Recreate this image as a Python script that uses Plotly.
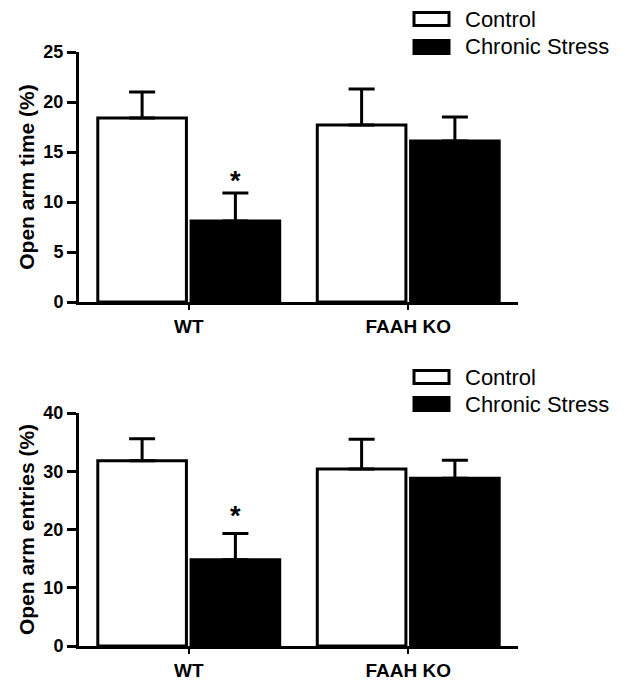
import plotly.graph_objects as go

# ---- data ----
groups = ["WT", "FAAH KO"]
series_names = ["Control", "Chronic Stress"]

time_control = [18.4, 17.7]
time_control_err = [2.6, 3.6]
time_stress = [8.1, 16.1]
time_stress_err = [2.8, 2.4]

entries_control = [31.8, 30.4]
entries_control_err = [3.8, 5.1]
entries_stress = [14.8, 28.8]
entries_stress_err = [4.5, 3.1]

time_ticks = [0, 5, 10, 15, 20, 25]
entries_ticks = [0, 10, 20, 30, 40]
sig_marks = ["*", ""]  # significance per group, on the stress bar

# ---- styling ----
FONT = "Liberation Sans, Arial, sans-serif"
W, H = 637, 680
LW = 3
BARGAP = 0.15
BARGROUPGAP = 0.05
fill = {"Control": "white", "Chronic Stress": "black"}


def px_x(p):
    return p / W


def px_y(p):
    return 1 - p / H


fig = go.Figure()

panels = [
    dict(xa="x", ya="y", c=time_control, ce=time_control_err,
         s=time_stress, se=time_stress_err),
    dict(xa="x2", ya="y2", c=entries_control, ce=entries_control_err,
         s=entries_stress, se=entries_stress_err),
]

for p in panels:
    for name, vals, errs in [("Control", p["c"], p["ce"]),
                             ("Chronic Stress", p["s"], p["se"])]:
        fig.add_trace(go.Bar(
            x=groups, y=vals, name=name, showlegend=False,
            xaxis=p["xa"], yaxis=p["ya"],
            marker=dict(color=fill[name], line=dict(color="black", width=LW)),
            error_y=dict(type="data", symmetric=False, array=errs,
                         arrayminus=[0] * len(errs), color="black",
                         thickness=LW, width=13),
        ))

# significance stars above the stress bars
slot = (1 - BARGAP) / 2
offset = slot / 2
for p, shift in [(panels[0], 12), (panels[1], 18)]:
    for i, mark in enumerate(sig_marks):
        if not mark:
            continue
        fig.add_annotation(
            x=i + offset, y=p["s"][i] + p["se"][i], xref=p["xa"], yref=p["ya"],
            text=mark, showarrow=False, yanchor="middle", yshift=shift,
            font=dict(family=FONT, size=27, color="black", weight="bold"),
        )

x_dom = [px_x(79), px_x(518)]
axis_common = dict(showline=True, linecolor="black", linewidth=LW,
                   showgrid=False, zeroline=False, ticks="outside",
                   tickcolor="black", automargin=False)
xcommon = dict(axis_common, domain=x_dom, range=[-0.5, 1.5], type="category",
               ticklen=5, tickwidth=2,
               tickfont=dict(family=FONT, size=19, color="black", weight="bold"))
ycommon = dict(axis_common, ticklen=9, tickwidth=LW,
               tickfont=dict(family=FONT, size=18, color="black", weight="bold"),
               title_font=dict(family=FONT, size=21, color="black", weight="bold"),
               title_standoff=4)

fig.update_layout(
    width=W, height=H, margin=dict(l=0, r=0, t=0, b=0),
    paper_bgcolor="white", plot_bgcolor="white",
    barmode="group", bargap=BARGAP, bargroupgap=BARGROUPGAP,
    showlegend=False,
    xaxis=dict(xcommon, anchor="y"),
    yaxis=dict(ycommon, domain=[px_y(302), px_y(52)], range=[0, 25],
               tickvals=time_ticks, anchor="x",
               title_text="Open arm time (%)"),
    xaxis2=dict(xcommon, anchor="y2"),
    yaxis2=dict(ycommon, domain=[px_y(646), px_y(413)], range=[0, 40],
                tickvals=entries_ticks, anchor="x2",
                title_text="Open arm entries (%)"),
)

# legends (one per panel), drawn as boxes + labels
for centers in [(19, 47), (377, 404)]:
    for name, cy in zip(series_names, centers):
        fig.add_shape(type="rect", xref="paper", yref="paper",
                      x0=px_x(414), x1=px_x(449),
                      y0=px_y(cy + 6.5), y1=px_y(cy - 6.5),
                      fillcolor=fill[name], line=dict(color="black", width=LW))
        fig.add_annotation(x=px_x(463), y=px_y(cy), xref="paper", yref="paper",
                           text=name, showarrow=False, xanchor="left",
                           yanchor="middle",
                           font=dict(family=FONT, size=22, color="black"))

# remove the page's default body margin so the figure fills the window
fig.write_html(
    "out.html",
    config={"displayModeBar": False},
    post_script="document.body.style.margin='0';"
                "document.body.style.overflow='hidden';",
)
